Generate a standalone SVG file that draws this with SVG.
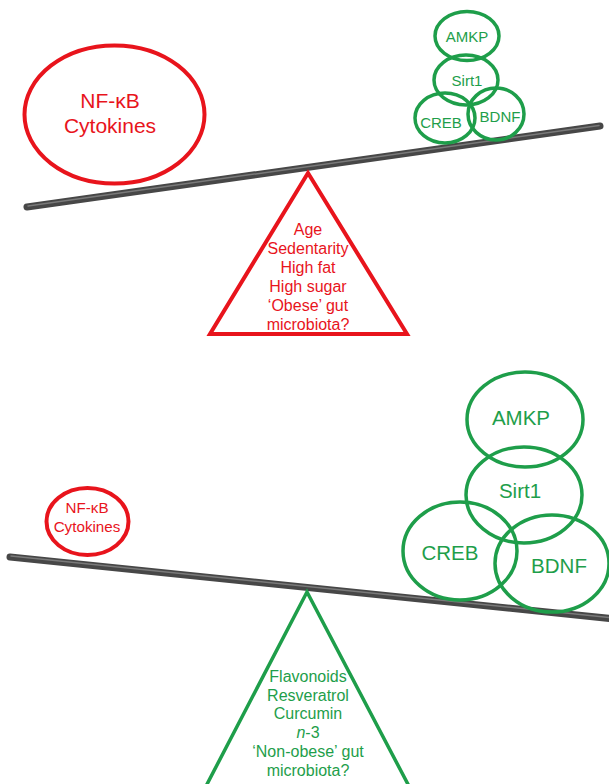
<svg xmlns="http://www.w3.org/2000/svg" width="609" height="784" viewBox="0 0 609 784">
<style>
.red{fill:none;stroke:#e8141c;stroke-width:4}
.grn{fill:none;stroke:#1e9e4a;stroke-width:3.5}
.tr{fill:#e8141c;font-family:"Liberation Sans",Arial,sans-serif;text-anchor:middle}
.tg{fill:#1e9e4a;font-family:"Liberation Sans",Arial,sans-serif;text-anchor:middle}
.beam{stroke:#474747;stroke-width:7;stroke-linecap:round}
.hl{stroke:#7a7a7a;stroke-width:1.5;stroke-linecap:round}
</style>
<rect width="609" height="784" fill="#fff"/>
<!-- top panel -->
<g id="beam-top">
<line class="beam" x1="27" y1="207" x2="600" y2="126"/>
<line class="hl" x1="28" y1="206" x2="599" y2="125.5"/>
</g>
<g id="fulcrum-top">
<polygon class="red" points="308,173 210,334 407,334"/>
<text class="tr" font-size="16" x="308" y="235">Age</text>
<text class="tr" font-size="16" x="308" y="254">Sedentarity</text>
<text class="tr" font-size="16" x="308" y="273">High fat</text>
<text class="tr" font-size="16" x="308" y="292">High sugar</text>
<text class="tr" font-size="16" x="308" y="311">‘Obese’ gut</text>
<text class="tr" font-size="16" x="308" y="330">microbiota?</text>
</g>
<g id="nfkb-top">
<ellipse class="red" cx="114.5" cy="114.5" rx="90" ry="69"/>
<text class="tr" font-size="21" x="110" y="108">NF-κB</text>
<text class="tr" font-size="21" x="110" y="133">Cytokines</text>
</g>
<g id="amkp-top">
<ellipse class="grn" cx="467" cy="36" rx="32" ry="24.5"/>
<text class="tg" font-size="15" x="467" y="42">AMKP</text>
</g>
<g id="sirt1-top">
<ellipse class="grn" cx="466" cy="80" rx="32" ry="25"/>
<text class="tg" font-size="15" x="467" y="86">Sirt1</text>
</g>
<g id="creb-top">
<ellipse class="grn" cx="445" cy="118" rx="30" ry="25"/>
<text class="tg" font-size="15" x="441" y="128">CREB</text>
</g>
<g id="bdnf-top">
<ellipse class="grn" cx="496" cy="114" rx="28" ry="26"/>
<text class="tg" font-size="15" x="500" y="122">BDNF</text>
</g>
<!-- bottom panel -->
<g id="beam-bottom">
<line class="beam" x1="10" y1="557" x2="615" y2="619"/>
<line class="hl" x1="11" y1="556" x2="615" y2="618"/>
</g>
<g id="fulcrum-bottom">
<polygon class="grn" stroke-width="4" points="307,592 204,790 411,790"/>
<text class="tg" font-size="16" x="308" y="682">Flavonoids</text>
<text class="tg" font-size="16" x="308" y="701">Resveratrol</text>
<text class="tg" font-size="16" x="308" y="719">Curcumin</text>
<text class="tg" font-size="16" x="308" y="738"><tspan font-style="italic">n</tspan>-3</text>
<text class="tg" font-size="16" x="308" y="757">‘Non-obese’ gut</text>
<text class="tg" font-size="16" x="308" y="776">microbiota?</text>
</g>
<g id="nfkb-bottom">
<ellipse class="red" cx="87.5" cy="521.5" rx="41" ry="33.5"/>
<text class="tr" font-size="15.2" x="87" y="513">NF-κB</text>
<text class="tr" font-size="15.2" x="87" y="532">Cytokines</text>
</g>
<g id="amkp-bottom">
<ellipse class="grn" stroke-width="4" cx="525" cy="419.5" rx="58" ry="47.5"/>
<text class="tg" font-size="20.5" x="521" y="425">AMKP</text>
</g>
<g id="sirt1-bottom">
<ellipse class="grn" stroke-width="4" cx="524" cy="495" rx="58" ry="48"/>
<text class="tg" font-size="20.5" x="520" y="498">Sirt1</text>
</g>
<g id="creb-bottom">
<ellipse class="grn" stroke-width="4" cx="460" cy="551" rx="57" ry="49"/>
<text class="tg" font-size="20.5" x="450" y="560">CREB</text>
</g>
<g id="bdnf-bottom">
<ellipse class="grn" stroke-width="4" cx="552" cy="563.5" rx="57" ry="48.5"/>
<text class="tg" font-size="20.5" x="559" y="573">BDNF</text>
</g>
<g id="connectors"/>
</svg>
